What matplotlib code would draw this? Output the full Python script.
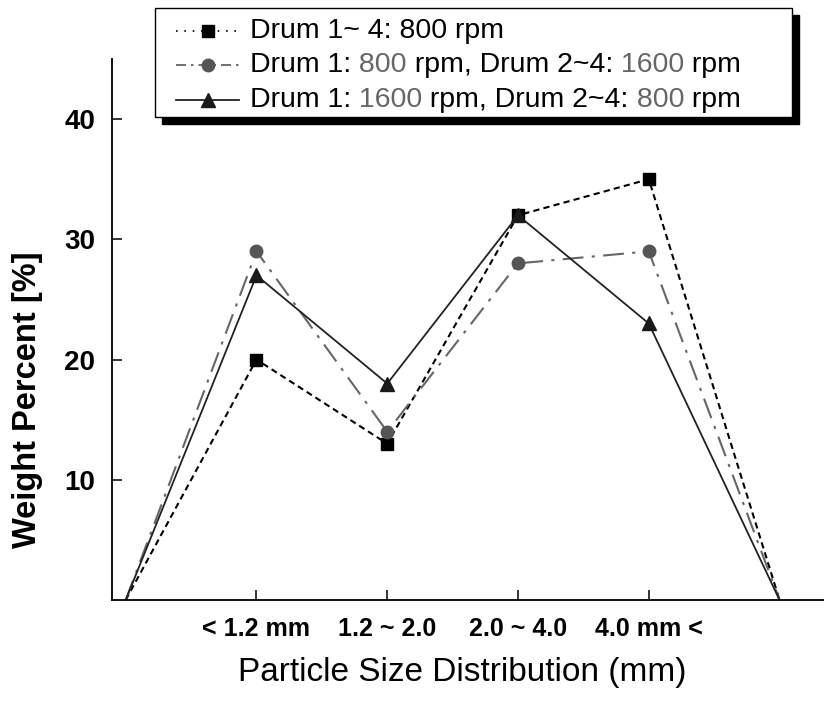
import numpy as np
import matplotlib
matplotlib.use('Agg')
from matplotlib import pyplot as plt
from matplotlib.lines import Line2D
from matplotlib.patches import Rectangle

# data
sizes = ['< 1.2 mm', '1.2 ~ 2.0', '2.0 ~ 4.0', '4.0 mm <']
xpos = [0, 1, 2, 3, 4, 5]
drum_800 = [0, 20, 13, 32, 35, 0]
drum_800_1600 = [0, 29, 14, 28, 29, 0]
drum_1600_800 = [0, 27, 18, 32, 23, 0]

W, H = 824, 705
plt.rcParams['font.family'] = ['Liberation Sans', 'DejaVu Sans']

fig = plt.figure(figsize=(W / 100, H / 100), dpi=100)
ax = fig.add_axes([112 / W, (H - 600) / H, (W - 112) / W, (600 - 59) / H])

mk = [1, 2, 3, 4]
ax.plot(xpos, drum_800, color='black', lw=1.5, ls=(0, (3, 2)),
        marker='s', ms=8.6, markevery=mk, mfc='black', mec='black')
ax.plot(xpos, drum_800_1600, color='#666666', lw=1.5, ls=(0, (10, 4, 1.5, 4)),
        marker='o', ms=9, markevery=mk, mfc='#555555', mec='#555555')
ax.plot(xpos, drum_1600_800, color='#222222', lw=1.3, ls='-',
        marker='^', ms=10, markevery=mk, mfc='#1a1a1a', mec='#1a1a1a')

ax.set_xlim(-0.105, 5.34)
ax.set_ylim(0, 45)
ax.set_xticks([1, 2, 3, 4])
ax.set_xticklabels(sizes, fontweight='bold', fontsize=18)
ax.set_yticks([10, 20, 30, 40])
ax.set_yticklabels(['10', '20', '30', '40'], fontweight='bold', fontsize=20)
ax.tick_params(axis='x', direction='in', length=7, width=1.1, pad=12)
ax.tick_params(axis='y', direction='in', length=7, width=1.1, pad=12)
for s in ['top', 'right']:
    ax.spines[s].set_visible(False)
for s in ['left', 'bottom']:
    ax.spines[s].set_linewidth(1.3)

fig.text(462 / W, 1 - 672 / H, 'Particle Size Distribution (mm)', fontsize=24,
         ha='center', va='center')
fig.text(28 / W, 1 - 400 / H, 'Weight Percent [%]', fontsize=23.5, fontweight='bold',
         rotation=90, ha='center', va='center')

# legend box drawn by hand (numbers in grey)
shadow = Rectangle((162 / W, 1 - 124 / H), (792 - 155) / W, (117 - 8) / H,
                   transform=fig.transFigure, facecolor='black', edgecolor='black', zorder=5)
box = Rectangle((155 / W, 1 - 117 / H), (792 - 155) / W, (117 - 8) / H,
                transform=fig.transFigure, facecolor='white', edgecolor='black',
                lw=1.0, zorder=6)
fig.add_artist(shadow)
fig.add_artist(box)

rows = [31, 65, 100]
handles = [
    dict(color='black', ls=(0, (1, 4)), lw=1.2, marker='s', mfc='black', ms=8.6),
    dict(color='#555555', ls=(0, (6, 3, 1.5, 3)), lw=1.2, marker='o', mfc='#555555', ms=9),
    dict(color='#222222', ls='-', lw=1.3, marker='^', mfc='#1a1a1a', ms=10),
]
labels = [
    [('Drum 1~ 4: 800 rpm', 'black')],
    [('Drum 1:', 'black'), (' 800', '#666666'), (' rpm, Drum 2~4:', 'black'),
     (' 1600', '#666666'), (' rpm', 'black')],
    [('Drum 1:', 'black'), (' 1600', '#666666'), (' rpm, Drum 2~4:', 'black'),
     (' 800', '#666666'), (' rpm', 'black')],
]
fs_leg = 20.5
for ry, h, lab in zip(rows, handles, labels):
    yf = 1 - ry / H
    fig.add_artist(Line2D([176 / W, 239 / W], [yf, yf], transform=fig.transFigure,
                          color=h['color'], ls=h['ls'], lw=h['lw'], zorder=7))
    fig.add_artist(Line2D([208 / W], [yf], transform=fig.transFigure, ls='none',
                          marker=h['marker'], ms=h['ms'], mfc=h['mfc'], mec=h['mfc'],
                          zorder=8))
    t = fig.text(250 / W, yf, lab[0][0], color=lab[0][1], fontsize=fs_leg,
                 va='center', ha='left', zorder=8)
    for s, c in lab[1:]:
        t = fig.add_artist(matplotlib.text.Annotation(
            s, xy=(1, 0), xycoords=t, va='bottom', ha='left', color=c,
            fontsize=fs_leg, zorder=8))

fig.savefig('out.png', dpi=100)
